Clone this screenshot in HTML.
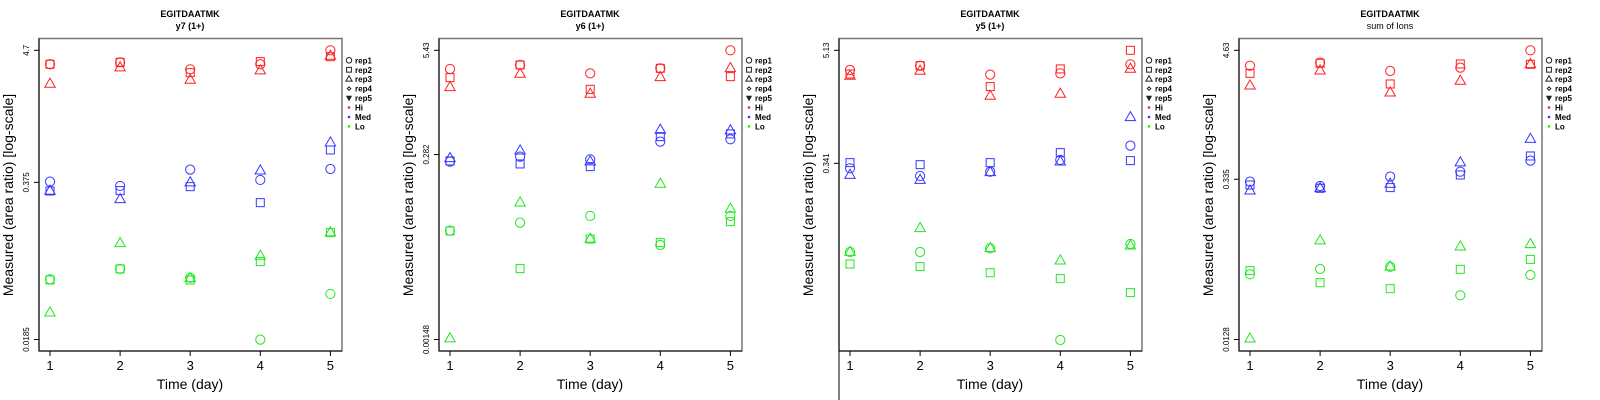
<!DOCTYPE html>
<html><head><meta charset="utf-8">
<style>
html,body{margin:0;padding:0;background:#fff;}
svg{display:block;font-family:"Liberation Sans",sans-serif;}
</style></head>
<body>
<svg id="chart" width="1600" height="400" viewBox="0 0 1600 400" xmlns="http://www.w3.org/2000/svg"></svg>
<script>
// Data: values are log10(area ratio); index = day 1..5
const days = [1, 2, 3, 4, 5];
const panelTitles = ["y7 (1+)", "y6 (1+)", "y5 (1+)", "sum of Ions"];
const peptide = "EGITDAATMK";
const yMaxLog = [0.672, 0.735, 0.710, 0.666];
const yMinLog = [-1.733, -2.830, -2.302, -1.893];
const yTickLabels = [["0.0185", "0.375", "4.7"], ["0.00148", "0.282", "5.43"], ["", "0.341", "5.13"], ["0.0128", "0.335", "4.63"]];
const yTickLogs = [[-1.733, -0.426, 0.672], [-2.830, -0.550, 0.735], [-2.302, -0.467, 0.710], [-1.893, -0.475, 0.666]];
const legendLabels = ["rep1", "rep2", "rep3", "rep4", "rep5", "Hi", "Med", "Lo"];

// panel 1
const p1HiRep1 = [0.556, 0.572, 0.514, 0.556, 0.672];
const p1HiRep2 = [0.556, 0.572, 0.486, 0.578, 0.619];
const p1HiRep3 = [0.392, 0.528, 0.425, 0.503, 0.625];
const p1MedRep1 = [-0.420, -0.456, -0.320, -0.406, -0.315];
const p1MedRep2 = [-0.498, -0.495, -0.462, -0.595, -0.157];
const p1MedRep3 = [-0.498, -0.567, -0.428, -0.329, -0.096];
const p1LoRep1 = [-1.232, -1.146, -1.219, -1.734, -1.354];
const p1LoRep2 = [-1.238, -1.146, -1.238, -1.085, -0.844];
const p1LoRep3 = [-1.510, -0.933, -1.224, -1.038, -0.844];
// panel 2
const p2HiRep1 = [0.505, 0.554, 0.451, 0.513, 0.735];
const p2HiRep2 = [0.398, 0.554, 0.254, 0.513, 0.410];
const p2HiRep3 = [0.279, 0.443, 0.197, 0.402, 0.513];
const p2MedRep1 = [-0.637, -0.576, -0.609, -0.391, -0.362];
const p2MedRep2 = [-0.629, -0.666, -0.699, -0.329, -0.296];
const p2MedRep3 = [-0.596, -0.502, -0.637, -0.247, -0.255];
const p2LoRep1 = [-1.488, -1.389, -1.307, -1.665, -1.307];
const p2LoRep2 = [-1.492, -1.956, -1.591, -1.636, -1.377];
const p2LoRep3 = [-2.819, -1.143, -1.591, -0.913, -1.221];
// panel 3
const p3HiRep1 = [0.505, 0.550, 0.457, 0.470, 0.564];
const p3HiRep2 = [0.463, 0.550, 0.332, 0.516, 0.710];
const p3HiRep3 = [0.443, 0.495, 0.234, 0.255, 0.516];
const p3MedRep1 = [-0.519, -0.599, -0.554, -0.432, -0.283];
const p3MedRep2 = [-0.460, -0.481, -0.460, -0.356, -0.439];
const p3MedRep3 = [-0.589, -0.641, -0.561, -0.450, 0.012];
const p3LoRep1 = [-1.391, -1.391, -1.352, -2.307, -1.307];
const p3LoRep2 = [-1.516, -1.543, -1.606, -1.668, -1.814];
const p3LoRep3 = [-1.391, -1.144, -1.352, -1.481, -1.325];
// panel 4
const p4HiRep1 = [0.530, 0.557, 0.483, 0.513, 0.666];
const p4HiRep2 = [0.462, 0.551, 0.368, 0.545, 0.542];
const p4HiRep3 = [0.353, 0.486, 0.291, 0.395, 0.542];
const p4MedRep1 = [-0.496, -0.535, -0.452, -0.408, -0.310];
const p4MedRep2 = [-0.526, -0.555, -0.549, -0.437, -0.269];
const p4MedRep3 = [-0.576, -0.555, -0.517, -0.328, -0.119];
const p4LoRep1 = [-1.316, -1.269, -1.249, -1.502, -1.322];
const p4LoRep2 = [-1.284, -1.390, -1.443, -1.272, -1.184];
const p4LoRep3 = [-1.886, -1.018, -1.249, -1.072, -1.051];

const panels = [
  [[p1HiRep1,p1HiRep2,p1HiRep3],[p1MedRep1,p1MedRep2,p1MedRep3],[p1LoRep1,p1LoRep2,p1LoRep3]],
  [[p2HiRep1,p2HiRep2,p2HiRep3],[p2MedRep1,p2MedRep2,p2MedRep3],[p2LoRep1,p2LoRep2,p2LoRep3]],
  [[p3HiRep1,p3HiRep2,p3HiRep3],[p3MedRep1,p3MedRep2,p3MedRep3],[p3LoRep1,p3LoRep2,p3LoRep3]],
  [[p4HiRep1,p4HiRep2,p4HiRep3],[p4MedRep1,p4MedRep2,p4MedRep3],[p4LoRep1,p4LoRep2,p4LoRep3]]
];
const groupNames = ["hi", "med", "lo"];
const colors = ["#ff2020", "#3636ff", "#1ee81e"];

const NS = "http://www.w3.org/2000/svg";
const svg = document.getElementById("chart");
function mk(tag, attrs, parent, text) {
  const e = document.createElementNS(NS, tag);
  for (const k in attrs) e.setAttribute(k, attrs[k]);
  if (text !== undefined) e.textContent = text;
  parent.appendChild(e);
  return e;
}
const X0 = 50, XSTEP = 70.1, YTOP = 50.3, YBOT = 339.5;
function xScale(d) { return X0 + (d - 1) * XSTEP; }
function yScale(p, v) { return YBOT - (v - yMinLog[p]) / (yMaxLog[p] - yMinLog[p]) * (YBOT - YTOP); }
function marker(g, shape, x, y, color, size) {
  let e;
  if (shape === 0) e = mk("circle", {cx:x, cy:y, r:4.6*size, fill:"none", stroke:color, "stroke-width":1}, g);
  else if (shape === 1) e = mk("rect", {x:x-4*size, y:y-4*size, width:8*size, height:8*size, fill:"none", stroke:color, "stroke-width":1}, g);
  else if (shape === 2) e = mk("polygon", {points:`${x-5.2*size},${y+3.3*size} ${x+5.2*size},${y+3.3*size} ${x},${y-5.8*size}`, fill:"none", stroke:color, "stroke-width":1}, g);
  else if (shape === 3) e = mk("polygon", {points:`${x},${y-3*size} ${x+3*size},${y} ${x},${y+3*size} ${x-3*size},${y}`, fill:"none", stroke:color, "stroke-width":1}, g);
  else e = mk("polygon", {points:`${x-3*size},${y-2.5*size} ${x+3*size},${y-2.5*size} ${x},${y+3*size}`, fill:"#222", stroke:"#222", "stroke-width":1}, g);
  return e;
}

for (let p = 0; p < 4; p++) {
  const g = mk("g", {transform:`translate(${p*400},0)`}, svg);
  
  
  const t1 = mk("text", {x:190, y:17, "text-anchor":"middle", "font-size":9, "font-weight":"bold"}, g, peptide);
  
  
  const t2 = mk("text", {x:190, y:29, "text-anchor":"middle", "font-size":9, "font-weight":p<3?"bold":"normal"}, g, panelTitles[p]);
  
  
  const box = mk("rect", {x:39, y:38.5, width:303, height:312.5, fill:"none", stroke:"#777", "stroke-width":1.5}, g);
  
  
  const ax = mk("path", {d:`M39,${p===2?400:351} L39,38.5 M39,351 L342,351`, fill:"none", stroke:"#000", "stroke-width":1}, g);
  
  
  // x ticks
  days.forEach(d => {
    const x = xScale(d);
    const tk = mk("line", {x1:x, y1:351, x2:x, y2:356, stroke:"#000", "stroke-width":1}, g);
    
    
    const tl = mk("text", {x:x, y:370, "text-anchor":"middle", "font-size":13}, g, String(d));
    
    
  });
  const xt = mk("text", {x:190, y:389, "text-anchor":"middle", "font-size":14}, g, "Time (day)");
  
  
  const yt = mk("text", {x:0, y:0, "text-anchor":"middle", "font-size":14, transform:"translate(13,195) rotate(-90)"}, g, "Measured (area ratio) [log-scale]");
  
  
  yTickLogs[p].forEach((v, i) => {
    const y = yScale(p, v);
    if (yTickLabels[p][i] === "") return;
    const tk = mk("line", {x1:34, y1:y, x2:39, y2:y, stroke:"#000", "stroke-width":1}, g);
    
    
    const tl = mk("text", {x:0, y:0, "text-anchor":"middle", "font-size":8, transform:`translate(29,${y}) rotate(-90)`}, g, yTickLabels[p][i]);
    
    
  });
  // points
  panels[p].forEach((grp, gi) => {
    grp.forEach((rep, ri) => {
      rep.forEach((v, di) => {
        const m = marker(g, ri, xScale(days[di]), yScale(p, v), colors[gi], 1);
        
        
      });
    });
  });
  // legend
  const lg = mk("g", {}, g);
  
  
  legendLabels.forEach((lab, i) => {
    const y = 60.3 + i * 9.45;
    const ent = mk("g", {}, lg);
    
    
    if (i < 5) {
      if (i === 4) marker(ent, 4, 349, y, "#222", 0.75);
      else marker(ent, i, 349, y, "#222", 0.6);
    } else {
      mk("circle", {cx:349, cy:y, r:1.3, fill:colors[i-5]}, ent);
    }
    mk("text", {x:355, y:y+3, "font-size":8, "font-weight":"bold"}, ent, lab);
  });
}
</script>
</body></html>
